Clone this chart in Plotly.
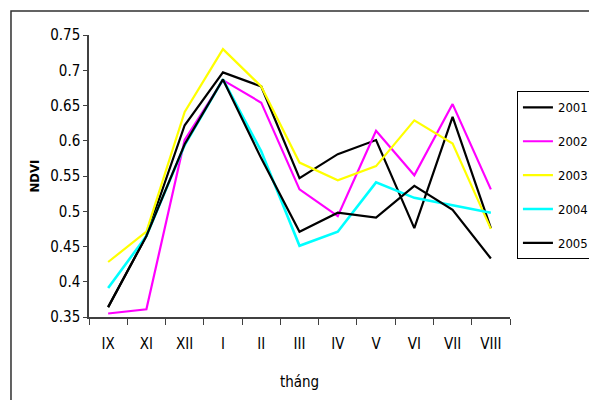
import plotly.graph_objects as go

# Months (Roman numerals) on the x axis
months = ["IX", "XI", "XII", "I", "II", "III", "IV", "V", "VI", "VII", "VIII"]

# NDVI per year
ndvi_2001 = [0.364, 0.465, 0.622, 0.697, 0.677, 0.547, 0.581, 0.601, 0.476, 0.634, 0.476]
ndvi_2002 = [0.355, 0.361, 0.601, 0.686, 0.654, 0.531, 0.493, 0.614, 0.551, 0.652, 0.531]
ndvi_2003 = [0.428, 0.471, 0.641, 0.730, 0.677, 0.569, 0.544, 0.564, 0.629, 0.596, 0.475]
ndvi_2004 = [0.391, 0.465, 0.594, 0.687, 0.585, 0.451, 0.471, 0.541, 0.519, 0.509, 0.498]
ndvi_2005 = [0.364, 0.465, 0.595, 0.687, 0.575, 0.471, 0.498, 0.491, 0.536, 0.502, 0.433]

y_ticks = [0.35, 0.4, 0.45, 0.5, 0.55, 0.6, 0.65, 0.7, 0.75]
y_tick_text = ["0.35", "0.4", "0.45", "0.5", "0.55", "0.6", "0.65", "0.7", "0.75"]

series = [
    ("2001", ndvi_2001, "#000000", 2.2),
    ("2002", ndvi_2002, "#ff00ff", 2.2),
    ("2003", ndvi_2003, "#ffff00", 2.2),
    ("2004", ndvi_2004, "#00ffff", 2.6),
    ("2005", ndvi_2005, "#000000", 2.2),
]

FONT = "DejaVu Sans Condensed, Liberation Sans Narrow, Liberation Sans, Arial, sans-serif"

fig = go.Figure()
for name, vals, color, w in series:
    fig.add_trace(go.Scatter(
        x=months, y=vals, mode="lines", name=name,
        legendgroup=name,
        line=dict(color=color, width=w),
    ))

fig.update_layout(
    width=589, height=400,
    margin=dict(l=89, r=79, t=35, b=83, autoexpand=False),
    paper_bgcolor="white", plot_bgcolor="white",
    font=dict(family=FONT, size=15, color="black"),
    showlegend=True,
    legend=dict(
        x=1.0165, y=0.80, xanchor="left", yanchor="top",
        bordercolor="black", borderwidth=1,
        font=dict(family=FONT, size=13, color="black"),
        tracegroupgap=14,
        traceorder="grouped",
        itemwidth=30,
    ),
    xaxis=dict(
        type="category",
        range=[-0.5, 10.5],
        showgrid=False, zeroline=False,
        showline=True, linecolor="#404040", linewidth=1.5,
        ticks="outside", tickson="boundaries", ticklen=6, tickcolor="#404040",
        ticklabelstandoff=12,
        tickfont=dict(family=FONT, size=15),
        title=dict(text="tháng", font=dict(family=FONT, size=15), standoff=25),
    ),
    yaxis=dict(
        range=[0.35, 0.75],
        tickvals=y_ticks, ticktext=y_tick_text,
        showgrid=False, zeroline=False,
        showline=True, linecolor="#404040", linewidth=1.5,
        ticks="outside", ticklen=4, tickcolor="#404040",
        tickfont=dict(family=FONT, size=15),
        title=dict(text="<b>NDVI</b>", font=dict(family=FONT, size=13), standoff=8),
    ),
    shapes=[
        # outer chart frame
        dict(type="rect", xref="paper", yref="paper",
             x0=-0.1853, x1=1.5, y0=-0.6, y1=1.085,
             line=dict(color="#303030", width=1.5), fillcolor="rgba(0,0,0,0)",
             layer="below"),
    ],
)

fig.write_html("out.html")
